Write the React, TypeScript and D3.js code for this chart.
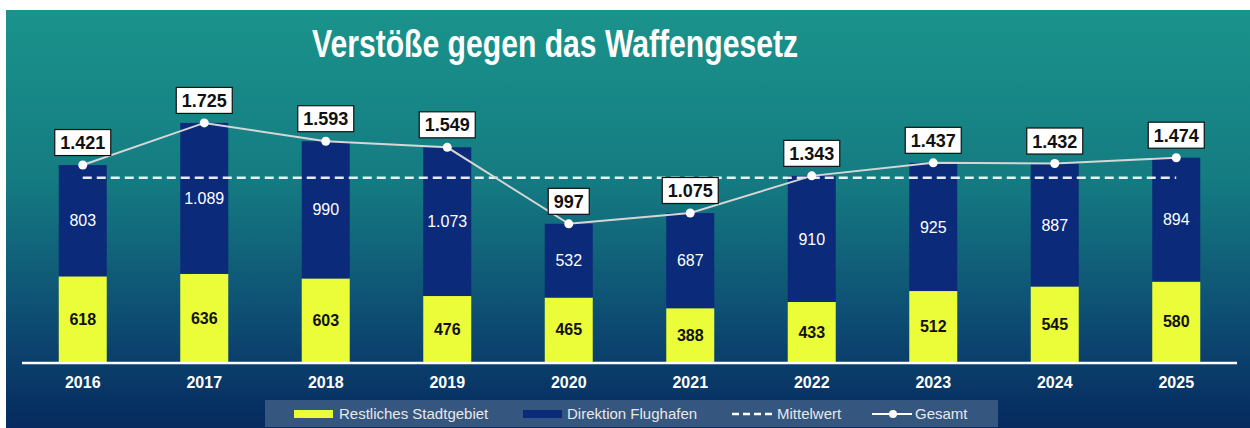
import React from "react";
import * as d3 from "d3";

const years = ["2016", "2017", "2018", "2019", "2020", "2021", "2022", "2023", "2024", "2025"];
const stadtgebiet = [618, 636, 603, 476, 465, 388, 433, 512, 545, 580];
const flughafen = [803, 1089, 990, 1073, 532, 687, 910, 925, 887, 894];
const gesamt = [1421, 1725, 1593, 1549, 997, 1075, 1343, 1437, 1432, 1474];
const mittelwert = 1330;
const title = "Verstöße gegen das Waffengesetz";
const legendLabels = ["Restliches Stadtgebiet", "Direktion Flughafen", "Mittelwert", "Gesamt"];

const W = 1250;
const H = 428;
const YELLOW = "#ebfd38";
const NAVY = "#0b2a7a";
const FONT = "'Liberation Sans', Arial, sans-serif";

const de = d3.formatLocale({ decimal: ",", thousands: ".", grouping: [3], currency: ["", "€"] });
const fmt = de.format(",d");

export default function App() {
  const x = d3.scaleBand<string>().domain(years).range([22, 1237]).paddingInner(0.605).paddingOuter(0.3025);
  const y = d3.scaleLinear().domain([0, 2000]).range([362, 84.8]);
  const bw = x.bandwidth();
  const cx = (i: number) => (x(years[i]) as number) + bw / 2;

  const line = d3
    .line<number>()
    .x((_, i) => cx(i))
    .y((d) => y(d));

  const charW = (s: string) => s.split("").reduce((a, c) => a + (c === "." ? 5 : 10), 0);

  return (
    <svg width={W} height={H} style={{ position: "absolute", left: 0, top: 0, fontFamily: FONT }}>
      <defs>
        <linearGradient id="bg" x1="0" y1="0" x2="0" y2="1">
          <stop offset="0" stopColor="#1a938b" />
          <stop offset="0.4" stopColor="#157c82" />
          <stop offset="0.75" stopColor="#0d4b72" />
          <stop offset="1" stopColor="#062a5f" />
        </linearGradient>
      </defs>
      <rect x={0} y={0} width={W} height={H} fill="#ffffff" />
      <rect x={6} y={10} width={W - 6} height={H - 10} fill="url(#bg)" />

      <text x={555} y={57} textAnchor="middle" fill="#ffffff" fontSize={38} fontWeight="bold" textLength={486} lengthAdjust="spacingAndGlyphs">
        {title}
      </text>

      {years.map((yr, i) => {
        const x0 = x(yr) as number;
        const yBase = y(0);
        const yS = y(stadtgebiet[i]);
        const yT = y(stadtgebiet[i] + flughafen[i]);
        return (
          <g key={yr}>
            <rect x={x0} y={yS} width={bw} height={yBase - yS} fill={YELLOW} />
            <rect x={x0} y={yT} width={bw} height={yS - yT} fill={NAVY} />
            <text x={cx(i)} y={(yS + yBase) / 2} dy="0.35em" textAnchor="middle" fontSize={16} fontWeight="bold" fill="#111111">
              {fmt(stadtgebiet[i])}
            </text>
            <text x={cx(i)} y={(yS + yT) / 2} dy="0.35em" textAnchor="middle" fontSize={16} fill="#ffffff">
              {fmt(flughafen[i])}
            </text>
            <text x={cx(i)} y={382} dy="0.35em" textAnchor="middle" fontSize={16} fontWeight="bold" fill="#ffffff">
              {yr}
            </text>
          </g>
        );
      })}

      <line x1={22} x2={1237} y1={363} y2={363} stroke="#ffffff" strokeWidth={2.5} />

      <line x1={cx(0)} x2={cx(years.length - 1)} y1={y(mittelwert)} y2={y(mittelwert)} stroke="#ffffff" strokeWidth={2.5} strokeDasharray="9,5" opacity={0.9} />

      <path d={line(gesamt) || ""} fill="none" stroke="#d6d6d6" strokeWidth={2} />
      {gesamt.map((v, i) => (
        <circle key={"c" + i} cx={cx(i)} cy={y(v)} r={4.5} fill="#ffffff" />
      ))}

      {gesamt.map((v, i) => {
        const s = fmt(v);
        const w = charW(s) + 11;
        const bottom = y(v) - 9.5;
        return (
          <g key={"l" + i}>
            <rect x={cx(i) - w / 2} y={bottom - 26} width={w} height={26} fill="#ffffff" stroke="#111111" strokeWidth={1.2} />
            <text x={cx(i)} y={bottom - 13} dy="0.36em" textAnchor="middle" fontSize={18} fontWeight="bold" fill="#111111">
              {s}
            </text>
          </g>
        );
      })}

      <g>
        <rect x={265} y={400} width={733} height={27} fill="#35567f" />
        <rect x={294} y={410} width={39} height={8} fill={YELLOW} />
        <text x={339} y={414} dy="0.35em" fontSize={15} fill="#e8e8e8">{legendLabels[0]}</text>
        <rect x={523} y={410} width={39} height={8} fill={NAVY} />
        <text x={567} y={414} dy="0.35em" fontSize={15} fill="#e8e8e8">{legendLabels[1]}</text>
        <line x1={732} x2={774} y1={414} y2={414} stroke="#ffffff" strokeWidth={2.5} strokeDasharray="7,4" />
        <text x={777} y={414} dy="0.35em" fontSize={15} fill="#e8e8e8">{legendLabels[2]}</text>
        <line x1={872} x2={912} y1={414} y2={414} stroke="#ffffff" strokeWidth={2} />
        <circle cx={893} cy={414} r={4} fill="#ffffff" />
        <text x={915} y={414} dy="0.35em" fontSize={15} fill="#e8e8e8">{legendLabels[3]}</text>
      </g>
    </svg>
  );
}
